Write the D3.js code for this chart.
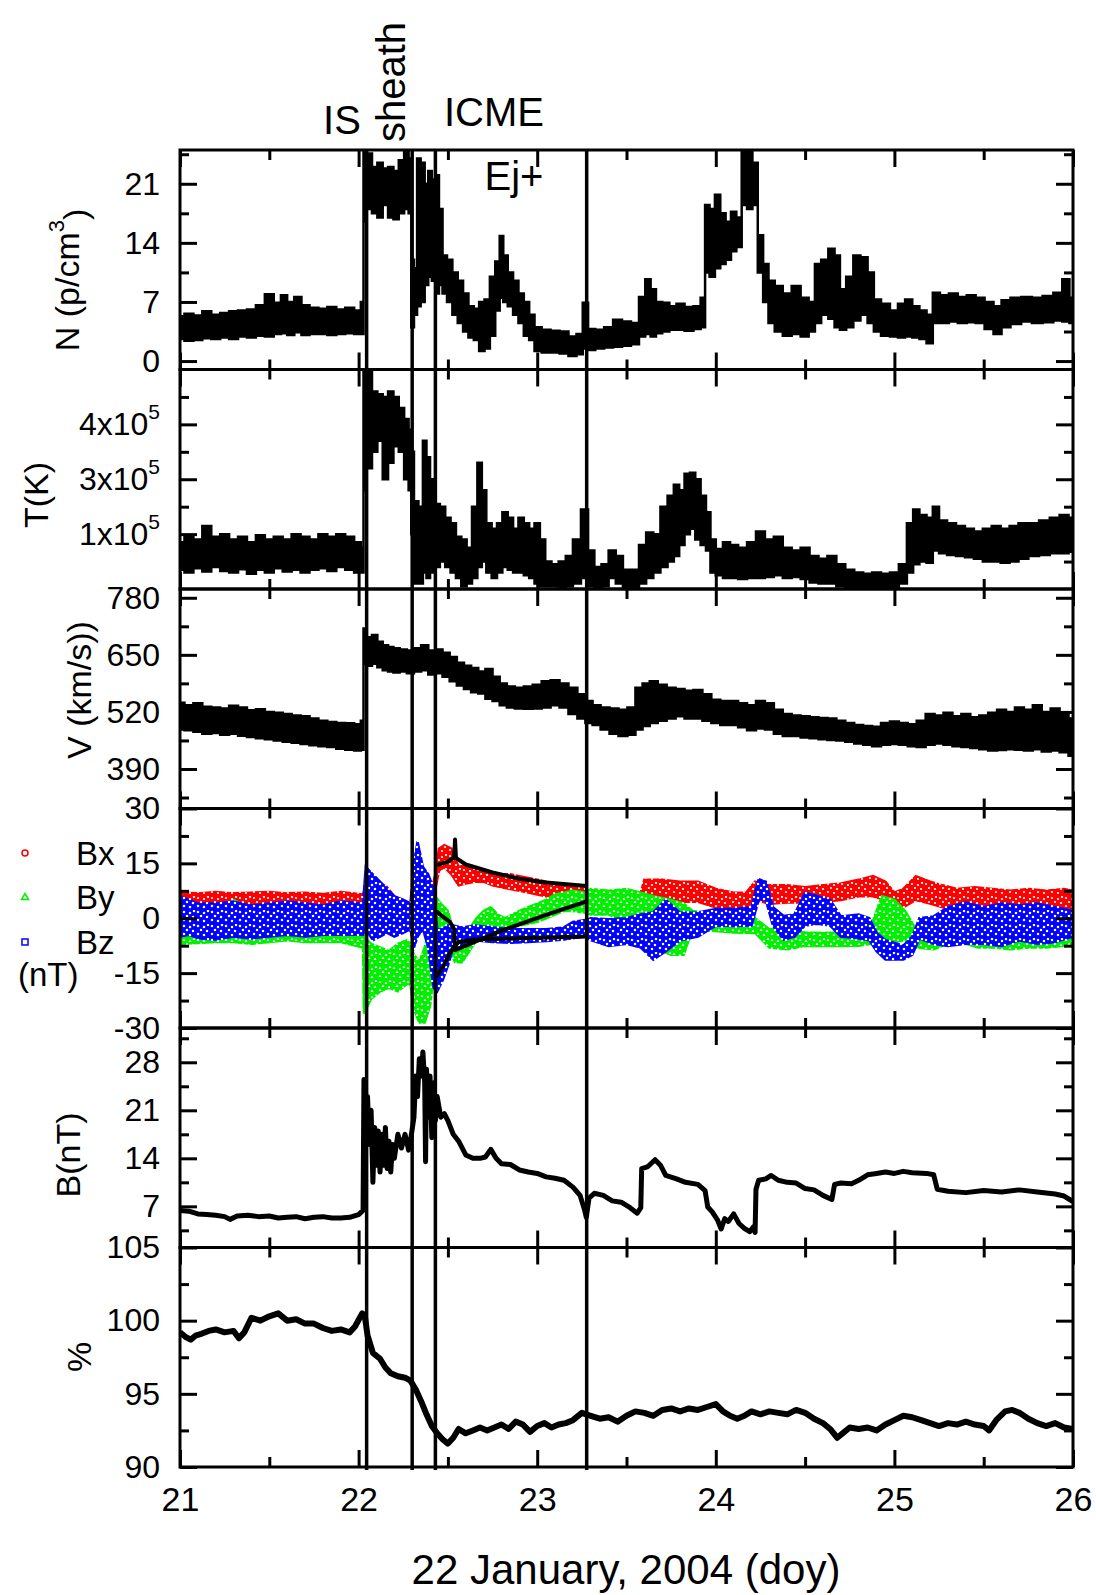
<!DOCTYPE html>
<html>
<head>
<meta charset="utf-8">
<script src="https://cdnjs.cloudflare.com/ajax/libs/d3/7.8.5/d3.min.js"></script>
<style>
  body { margin: 0; background: #fff; }
  svg { font-family: "Liberation Sans", Arial, sans-serif; }
  .axis path { display: none; }
  .axis line { stroke: #000; stroke-width: 3; }
  .axis text { font-size: 32px; fill: #000; font-family: "Liberation Sans", Arial, sans-serif; }
</style>
</head>
<body>
<svg id="chart" width="1096" height="1595"></svg>
<script>
/* CONSTANTS AND GLOBALS */
const
  margin = { top: 150, left: 180, right: 23 },
  width = 1096,
  panelH = 219.5,
  plotRight = width - margin.right;

// x axis
const dayTicks = [21, 22, 23, 24, 25, 26];
const dayMinor = [21.5, 22.5, 23.5, 24.5, 25.5];
// IS, sheath end, ICME start, ICME end
const eventDays = [22.045, 22.30, 22.43, 23.277];

// y ticks per panel
const nTicks = [0, 7, 14, 21], nMinor = [3.5, 10.5, 17.5, 24.5];
const tTicks = [2, 3, 4], tMinor = [1.5, 2.5, 3.5, 4.5];
const tTickLabels = ["1x10", "3x10", "4x10"];
const vTicks = [390, 520, 650, 780], vMinor = [325, 455, 585, 715];
const bcTicks = [-30, -15, 0, 15, 30], bcMinor = [-22.5, -7.5, 7.5, 22.5];
const bTicks = [7, 14, 21, 28], bMinor = [3.5, 10.5, 17.5, 24.5, 31.5];
const pTicks = [90, 95, 100, 105], pMinor = [92.5, 97.5, 102.5];

// density N (p/cm3): [day, low, high] of the point cloud
const nBand = [
  [21.00, 2.6, 5.3], [21.05, 2.4, 5.6], [21.10, 2.5, 5.4], [21.15, 2.7, 5.9], [21.20, 2.6, 5.5],
  [21.25, 2.8, 5.7], [21.30, 2.6, 5.9], [21.35, 2.9, 6.0], [21.40, 2.8, 6.1], [21.45, 3.0, 6.6],
  [21.50, 2.9, 7.9], [21.55, 3.2, 6.9], [21.58, 3.3, 7.8], [21.62, 3.1, 7.0], [21.66, 3.4, 7.6],
  [21.70, 3.1, 6.6], [21.75, 3.2, 6.3], [21.80, 3.2, 6.2], [21.85, 3.1, 6.4], [21.90, 3.2, 6.1],
  [21.95, 3.3, 6.3], [22.00, 3.2, 6.0], [22.025, 3.2, 7.0],
  [22.03, 16.5, 25], [22.06, 18.0, 24.6], [22.09, 17.5, 23.0], [22.12, 17.0, 23.5], [22.15, 18.5, 22.8],
  [22.18, 17.0, 23.0], [22.21, 16.8, 22.5], [22.24, 17.5, 23.8], [22.27, 18.0, 25], [22.29, 17.5, 24],
  [22.30, 4.0, 12], [22.32, 5.5, 11.0], [22.335, 6.5, 24.0], [22.36, 7.0, 23.5], [22.38, 9.0, 21],
  [22.40, 10.0, 22.5], [22.42, 9.5, 21.5], [22.44, 8.0, 22], [22.46, 9.0, 18], [22.48, 8.0, 12.5],
  [22.51, 7.0, 12.0], [22.54, 5.5, 10.5], [22.57, 4.5, 9.5], [22.60, 3.5, 8.0], [22.63, 2.8, 6.5],
  [22.66, 2.5, 6.2], [22.69, 1.2, 7.0], [22.72, 1.5, 7.3], [22.75, 3.0, 10.0], [22.78, 6.0, 11.8],
  [22.80, 7.5, 14.8], [22.82, 7.0, 12.5], [22.85, 6.5, 10.5], [22.88, 5.5, 9.5], [22.91, 4.5, 8.0],
  [22.94, 3.0, 7.0], [22.97, 2.5, 5.5], [23.00, 1.2, 4.0], [23.05, 1.0, 3.7], [23.10, 1.0, 3.6],
  [23.15, 0.9, 3.5], [23.20, 0.6, 2.9], [23.24, 0.8, 3.2], [23.27, 1.5, 6.9], [23.30, 1.3, 3.8],
  [23.35, 1.5, 3.7], [23.40, 1.6, 4.0], [23.45, 1.7, 4.9], [23.50, 1.8, 4.7], [23.55, 2.0, 4.5],
  [23.59, 2.9, 7.6], [23.62, 3.2, 9.7], [23.65, 2.9, 8.5], [23.68, 3.3, 7.0], [23.72, 3.5, 6.9],
  [23.76, 3.7, 6.5], [23.80, 3.7, 6.8], [23.85, 3.6, 6.4], [23.90, 3.8, 6.5], [23.93, 4.0, 7.5],
  [23.95, 10.5, 18.5], [23.98, 10.0, 18.0], [24.01, 11.0, 19.7], [24.04, 11.5, 17.5], [24.07, 12.0, 16.5],
  [24.10, 13.0, 17.7], [24.13, 13.5, 17.0], [24.16, 18.5, 24.9], [24.19, 18.0, 25], [24.22, 18.5, 23.5],
  [24.25, 10.5, 14.9], [24.28, 7.0, 11.5], [24.31, 4.5, 9.5], [24.35, 3.5, 8.9], [24.40, 3.0, 8.0],
  [24.45, 3.2, 8.9], [24.50, 2.9, 7.5], [24.54, 3.5, 7.0], [24.57, 4.5, 11.5], [24.61, 5.5, 12.0],
  [24.65, 5.0, 13.3], [24.68, 4.0, 12.5], [24.71, 3.7, 8.5], [24.75, 4.0, 10.0], [24.79, 4.8, 12.5],
  [24.83, 5.5, 12.3], [24.87, 4.5, 10.5], [24.90, 3.5, 7.3], [24.95, 3.0, 6.8], [25.00, 2.9, 6.0],
  [25.04, 2.8, 6.8], [25.08, 2.9, 7.3], [25.12, 2.8, 6.5], [25.16, 2.6, 6.0], [25.20, 2.1, 5.5],
  [25.23, 4.5, 8.1], [25.28, 4.5, 7.8], [25.33, 4.7, 8.0], [25.38, 4.5, 7.6], [25.43, 4.6, 7.8],
  [25.48, 4.5, 7.5], [25.53, 3.8, 7.0], [25.58, 3.2, 6.5], [25.62, 4.0, 7.2], [25.68, 4.4, 7.5],
  [25.74, 4.7, 7.6], [25.80, 4.5, 7.5], [25.86, 4.6, 7.7], [25.92, 4.8, 8.1], [25.96, 4.7, 9.7],
  [26.00, 4.5, 7.5]
];

// temperature, in units of 1e5 K on the printed axis
const tBand = [
  [21.00, 1.35, 1.85], [21.05, 1.30, 1.95], [21.10, 1.38, 1.90], [21.15, 1.32, 2.15], [21.20, 1.40, 1.95],
  [21.25, 1.33, 2.00], [21.30, 1.30, 1.90], [21.35, 1.36, 1.95], [21.40, 1.28, 1.85], [21.45, 1.35, 1.98],
  [21.50, 1.30, 1.90], [21.55, 1.38, 1.95], [21.60, 1.32, 1.90], [21.65, 1.35, 2.00], [21.70, 1.30, 1.95],
  [21.75, 1.35, 1.90], [21.80, 1.38, 2.00], [21.85, 1.33, 1.95], [21.90, 1.40, 2.00], [21.95, 1.35, 1.95],
  [22.00, 1.30, 1.85], [22.025, 1.30, 1.75],
  [22.03, 2.8, 4.95], [22.06, 3.2, 4.95], [22.09, 3.5, 4.6], [22.12, 3.7, 4.55], [22.15, 3.0, 4.5],
  [22.18, 3.3, 4.6], [22.21, 3.6, 4.5], [22.24, 3.5, 4.3], [22.27, 3.0, 4.1], [22.29, 2.8, 3.9],
  [22.30, 2.0, 3.5], [22.32, 1.1, 2.6], [22.35, 1.1, 2.5], [22.37, 1.3, 3.7], [22.39, 1.2, 3.4],
  [22.41, 1.3, 3.0], [22.44, 1.4, 2.55], [22.47, 1.5, 2.5], [22.50, 1.4, 2.3], [22.53, 1.3, 2.2],
  [22.56, 1.2, 1.95], [22.59, 1.05, 1.9], [22.62, 1.1, 1.75], [22.65, 1.2, 2.5], [22.68, 1.4, 3.3],
  [22.70, 1.5, 2.8], [22.73, 1.3, 2.2], [22.76, 1.2, 2.1], [22.79, 1.3, 2.2], [22.82, 1.4, 2.4],
  [22.85, 1.35, 2.3], [22.88, 1.3, 2.1], [22.91, 1.3, 2.3], [22.94, 1.25, 2.2], [22.97, 1.2, 2.1],
  [23.00, 1.1, 2.2], [23.03, 1.05, 1.9], [23.06, 1.05, 1.5], [23.10, 1.05, 1.45], [23.14, 1.03, 1.5],
  [23.18, 1.05, 1.6], [23.22, 1.1, 1.9], [23.27, 1.2, 2.45], [23.30, 1.05, 1.7], [23.34, 1.03, 1.4],
  [23.38, 1.05, 1.45], [23.42, 1.2, 1.7], [23.46, 1.1, 1.6], [23.50, 1.03, 1.35], [23.55, 1.03, 1.35],
  [23.59, 1.1, 1.8], [23.63, 1.2, 2.03], [23.67, 1.3, 2.0], [23.71, 1.4, 2.5], [23.75, 1.5, 2.7],
  [23.78, 1.6, 2.9], [23.81, 1.8, 2.8], [23.84, 2.0, 3.1], [23.87, 2.1, 3.12], [23.90, 1.9, 3.0],
  [23.93, 1.8, 2.7], [23.96, 1.7, 2.4], [23.98, 1.3, 1.9], [24.02, 1.25, 1.73], [24.06, 1.2, 1.85],
  [24.10, 1.2, 1.8], [24.15, 1.18, 1.75], [24.20, 1.2, 1.85], [24.25, 1.2, 2.05], [24.30, 1.22, 1.9],
  [24.35, 1.25, 1.95], [24.40, 1.2, 1.75], [24.45, 1.22, 1.7], [24.50, 1.18, 1.75], [24.55, 1.12, 1.6],
  [24.60, 1.1, 1.55], [24.65, 1.1, 1.6], [24.70, 1.05, 1.45], [24.75, 1.03, 1.35], [24.80, 1.03, 1.3],
  [24.85, 1.02, 1.28], [24.90, 1.03, 1.3], [24.95, 1.02, 1.28], [25.00, 1.03, 1.3], [25.05, 1.1, 1.45],
  [25.09, 1.3, 2.2], [25.12, 1.45, 2.45], [25.16, 1.5, 2.35], [25.20, 1.48, 2.3], [25.23, 1.7, 2.5],
  [25.27, 1.65, 2.25], [25.32, 1.62, 2.2], [25.37, 1.6, 2.15], [25.42, 1.58, 2.1], [25.47, 1.55, 2.05],
  [25.52, 1.5, 2.1], [25.57, 1.5, 2.15], [25.62, 1.48, 2.1], [25.67, 1.5, 2.15], [25.72, 1.55, 2.2],
  [25.78, 1.6, 2.2], [25.84, 1.62, 2.25], [25.90, 1.65, 2.3], [25.95, 1.65, 2.35], [26.00, 1.68, 2.3]
];

// speed V (km/s)
const vBand = [
  [21.00, 480, 541], [21.05, 478, 535], [21.10, 475, 540], [21.15, 470, 532], [21.20, 472, 530],
  [21.25, 468, 528], [21.30, 470, 534], [21.35, 466, 530], [21.40, 463, 524], [21.45, 460, 526],
  [21.50, 458, 520], [21.55, 455, 518], [21.60, 452, 515], [21.65, 450, 512], [21.70, 447, 510],
  [21.75, 444, 505], [21.80, 442, 500], [21.85, 440, 497], [21.90, 436, 495], [21.95, 434, 494],
  [22.00, 432, 492], [22.025, 434, 500],
  [22.03, 630, 710], [22.06, 625, 690], [22.09, 630, 695], [22.12, 622, 680], [22.15, 615, 672],
  [22.18, 612, 668], [22.21, 610, 665], [22.25, 612, 662], [22.29, 608, 660], [22.33, 612, 665],
  [22.37, 615, 672], [22.41, 605, 660], [22.45, 608, 662], [22.49, 600, 655], [22.53, 590, 645],
  [22.57, 580, 632], [22.61, 572, 625], [22.65, 565, 620], [22.69, 562, 612], [22.73, 550, 618],
  [22.77, 545, 600], [22.81, 535, 585], [22.85, 530, 578], [22.90, 528, 575], [22.95, 527, 578],
  [23.00, 528, 582], [23.05, 530, 590], [23.10, 535, 592], [23.15, 530, 585], [23.20, 515, 575],
  [23.25, 505, 560], [23.29, 495, 545], [23.33, 490, 535], [23.38, 480, 530], [23.43, 470, 528],
  [23.48, 465, 525], [23.53, 468, 530], [23.57, 480, 575], [23.61, 488, 585], [23.65, 495, 590],
  [23.70, 500, 582], [23.75, 505, 575], [23.80, 510, 572], [23.85, 505, 568], [23.90, 505, 570],
  [23.95, 500, 560], [24.00, 495, 548], [24.05, 490, 545], [24.10, 490, 545], [24.15, 485, 540],
  [24.20, 478, 535], [24.25, 482, 545], [24.30, 480, 540], [24.35, 470, 525], [24.40, 465, 515],
  [24.45, 465, 512], [24.50, 462, 510], [24.55, 460, 508], [24.60, 458, 506], [24.65, 456, 505],
  [24.70, 455, 500], [24.75, 452, 495], [24.80, 448, 490], [24.85, 445, 488], [24.90, 442, 486],
  [24.95, 445, 495], [25.00, 447, 498], [25.05, 445, 495], [25.10, 442, 492], [25.15, 440, 500],
  [25.20, 445, 515], [25.25, 448, 512], [25.30, 445, 518], [25.35, 442, 510], [25.40, 440, 515],
  [25.45, 438, 508], [25.50, 435, 512], [25.55, 432, 518], [25.60, 433, 525], [25.65, 435, 520],
  [25.70, 434, 530], [25.75, 432, 525], [25.80, 435, 535], [25.85, 430, 520], [25.90, 432, 528],
  [25.95, 428, 515], [26.00, 420, 505]
];

// field components (nT): [day, low, high] of each marker cloud
const bxBand = [
  [21.00, 3.5, 7.0], [21.10, 3.0, 6.8], [21.20, 3.5, 7.2], [21.30, 3.0, 6.8], [21.40, 3.5, 7.0],
  [21.50, 3.0, 7.2], [21.60, 3.5, 6.8], [21.70, 3.0, 7.0], [21.80, 3.5, 6.6], [21.90, 3.0, 7.2],
  [22.025, 3.0, 6.5], [22.05, -2, 10], [22.10, 0, 8], [22.15, -3, 9], [22.20, 1, 6], [22.25, -1, 5],
  [22.29, 0, 4], [22.32, -2, 5], [22.36, 0, 3], [22.40, -1, 6], [22.43, 8, 12],
  [22.45, 13, 19], [22.48, 14, 20], [22.52, 12, 19], [22.56, 9, 14], [22.60, 9.5, 14.5],
  [22.65, 10, 13.5], [22.70, 10, 13], [22.75, 9, 12.5], [22.80, 8.5, 12], [22.85, 8, 12],
  [22.90, 7.5, 11.5], [22.95, 7, 11], [23.00, 6.5, 10.5], [23.05, 6, 10], [23.10, 5.5, 9.5],
  [23.15, 5, 9], [23.20, 4, 8.5], [23.27, 3, 8], [23.30, 2.5, 7], [23.40, 2.5, 7], [23.50, 2.5, 7],
  [23.58, 3, 7], [23.60, 4.5, 10.5], [23.70, 5, 10.5], [23.80, 4.5, 10], [23.90, 4.5, 10],
  [24.00, 3, 8], [24.10, 2.5, 7], [24.17, 3, 7], [24.22, 5, 10], [24.30, 4, 9], [24.40, 4.3, 9],
  [24.50, 4.3, 8.5], [24.60, 4.5, 9], [24.70, 5, 9.5], [24.80, 6, 10.5], [24.88, 6, 11.5],
  [24.95, 5, 10], [25.00, 2.5, 7], [25.05, 3, 8], [25.12, 5, 11.5], [25.20, 4, 10], [25.27, 3, 9],
  [25.35, 2, 8], [25.45, 1.6, 8.5], [25.55, 2, 8], [25.65, 1.6, 7.5], [25.75, 2, 8], [25.85, 2.5, 7.5],
  [25.95, 2, 8], [26.00, 3, 7.5]
];
const byBand = [
  [21.00, -7, -2.5], [21.10, -6.8, -3], [21.20, -6.5, 1], [21.30, -6.5, 5], [21.40, -7, 2.5],
  [21.50, -6.5, -3], [21.60, -6, -2.5], [21.70, -6.5, -3], [21.80, -6.5, -2.5], [21.90, -6.5, -3],
  [22.025, -8, -2],
  [22.03, -26, -5], [22.07, -22, -7], [22.12, -20, -8], [22.17, -19, -9], [22.22, -20, -7],
  [22.27, -18, -6], [22.29, -18, -7], [22.31, -25, -10], [22.34, -28.5, -12], [22.37, -28.5, -8],
  [22.40, -24, -2], [22.43, -12, 6], [22.46, -10, 4], [22.50, -8, 2], [22.54, -12, -5],
  [22.58, -12, -6], [22.62, -9, -3], [22.66, -6, 0], [22.70, -5, 2], [22.74, -4, 3], [22.78, -3.5, 1],
  [22.82, -3, 0], [22.86, -2.5, 1], [22.90, -2, 2], [22.95, -1.5, 3], [23.00, -1, 4], [23.05, 0, 5],
  [23.10, 1, 6.5], [23.15, 2, 7], [23.20, 2, 7.5], [23.27, 1.5, 7], [23.30, 1, 8], [23.40, 1, 7.5],
  [23.50, -1, 8], [23.58, -3, 7], [23.65, -8, 6], [23.75, -10, 5], [23.82, -10, 4], [23.87, -3, 2],
  [24.00, -3.5, 1], [24.10, -3.9, 0.6], [24.22, -4, 0], [24.30, -8, -3], [24.40, -8.5, -3],
  [24.50, -7.5, -3.9], [24.60, -7.6, -4], [24.70, -7.6, -3.9], [24.80, -7.5, -4], [24.87, -7, -2],
  [24.93, -7, 6], [25.00, -6.5, 5], [25.06, -6, 2], [25.12, -8, -3], [25.22, -8.5, -3], [25.30, -7, 3],
  [25.40, -7, 3.5], [25.47, -8, 0], [25.55, -8, -1], [25.65, -8.5, -1.5], [25.75, -8, -1.2],
  [25.85, -8, -1], [25.95, -7.5, 2], [26.00, -7, 1]
];
const bzBand = [
  [21.00, -5, 6], [21.05, -4.5, 5], [21.10, -5.5, 4], [21.20, -5.8, 4], [21.30, -5, 4.5], [21.40, -5.5, 3.5],
  [21.50, -5, 4], [21.60, -4.5, 4.5], [21.70, -5, 4], [21.80, -4.5, 3.5], [21.90, -4.5, 4.5], [22.025, -4.5, 4],
  [22.04, -3, 14], [22.08, -6, 12], [22.12, -5, 10], [22.16, -4, 8], [22.20, -5, 6], [22.25, -4, 5],
  [22.29, -3, 4], [22.31, -8, 15], [22.33, -5, 21], [22.36, -3, 14], [22.39, -8, 12], [22.42, -19, 8],
  [22.44, -20, -3], [22.47, -17, -3], [22.50, -13, -2], [22.53, -8, -2], [22.58, -7, -2.5],
  [22.65, -6, -2], [22.75, -6.5, -2.5], [22.85, -6.7, -3], [22.95, -6.5, -3], [23.05, -6.2, -3],
  [23.15, -5.8, -2.5], [23.20, -5.5, -1], [23.27, -5, -0.5], [23.30, -6, 0], [23.40, -7.6, -0.3],
  [23.50, -7, 0], [23.58, -8, 1], [23.65, -11.3, 1.6], [23.72, -9, 5], [23.80, -6, 1.5], [23.90, -5, 1.6],
  [24.00, -2, 2.5], [24.10, -2.1, 2.5], [24.20, -2, 3], [24.24, 5, 10.7], [24.28, 5, 10], [24.32, -2, 3],
  [24.38, -5.8, 0.6], [24.44, -5, 1], [24.50, -2, 7], [24.57, -1.5, 6], [24.64, -2, 5], [24.70, -5, 0.5],
  [24.80, -5.5, 1], [24.86, -6, 0], [24.90, -9, -4], [24.95, -11.3, -6], [25.05, -11.3, -7.5],
  [25.10, -10, -5], [25.14, -5.5, 0], [25.22, -7, 0.5], [25.30, -7.6, 3], [25.40, -7, 4.3],
  [25.50, -7, 3], [25.60, -7.6, 4], [25.70, -6, 3.5], [25.80, -7, 4], [25.90, -6.5, 3], [26.00, -5, 2]
];
// flux-rope fit curves inside the ejecta
const bxFit = [
  [22.44, 14.5], [22.50, 15.5], [22.535, 16.6], [22.54, 21.5], [22.545, 16.5], [22.60, 14.7],
  [22.75, 12.5], [22.90, 10.8], [23.05, 9.8], [23.277, 8.8]
];
const byFit = [
  [22.435, 1.9], [22.47, 0.5], [22.51, -0.9], [22.535, -3], [22.54, -8.7], [22.56, -8.3],
  [22.80, -3.4], [23.05, 0.9], [23.277, 4.6]
];
const bzFit = [
  [22.435, -16], [22.47, -13.5], [22.50, -10.5], [22.53, -8], [22.56, -6.5], [22.65, -5.8],
  [22.90, -5.5], [23.277, -5]
];

// |B| (nT)
const bLine = [
  [21.00, 6.4], [21.05, 6.3], [21.10, 5.9], [21.15, 5.8], [21.20, 5.7], [21.25, 5.5], [21.28, 5.1],
  [21.32, 5.6], [21.38, 5.7], [21.44, 5.5], [21.50, 5.6], [21.55, 5.3], [21.60, 5.4], [21.65, 5.5],
  [21.70, 5.2], [21.75, 5.4], [21.80, 5.5], [21.85, 5.3], [21.90, 5.3], [21.95, 5.4], [22.00, 5.8],
  [22.025, 6.4], [22.03, 25.5], [22.04, 18], [22.05, 23], [22.06, 16], [22.07, 21], [22.08, 10.5],
  [22.09, 18.5], [22.10, 13], [22.11, 18], [22.12, 12], [22.13, 17.5], [22.14, 13], [22.15, 18.5],
  [22.16, 12.5], [22.17, 16.5], [22.18, 12], [22.19, 16], [22.20, 14], [22.22, 17.5], [22.24, 15.5],
  [22.26, 17.5], [22.28, 15.2], [22.29, 16.5], [22.31, 20], [22.32, 26], [22.33, 23], [22.34, 28.5],
  [22.35, 26], [22.36, 29.5], [22.37, 25], [22.375, 13.5], [22.38, 27], [22.39, 20], [22.40, 26],
  [22.41, 17], [22.42, 25], [22.43, 19.5], [22.44, 23], [22.46, 20], [22.48, 20.5], [22.50, 19.5],
  [22.53, 17.5], [22.56, 16.5], [22.60, 14.5], [22.64, 14], [22.68, 14], [22.71, 14.2], [22.74, 15.3],
  [22.77, 14], [22.80, 13.2], [22.85, 13.1], [22.90, 12.3], [22.95, 12], [23.00, 11.8], [23.05, 11.3],
  [23.10, 11.1], [23.15, 10.8], [23.20, 9.8], [23.24, 8.6], [23.265, 6.5], [23.275, 5.4], [23.29, 8.2],
  [23.32, 8.9], [23.37, 8.6], [23.42, 7.8], [23.47, 7.6], [23.52, 6.8], [23.56, 6.0], [23.58, 6.8],
  [23.585, 12.5], [23.62, 12.8], [23.66, 13.8], [23.69, 13.0], [23.72, 11.5], [23.78, 11.0],
  [23.83, 10.5], [23.90, 10.2], [23.94, 9.3], [23.955, 6.9], [23.98, 6.2], [24.01, 5.0], [24.03, 3.7],
  [24.05, 5.2], [24.07, 4.8], [24.10, 5.9], [24.13, 4.5], [24.16, 3.8], [24.19, 3.3], [24.21, 4.0],
  [24.22, 3.2], [24.225, 9.5], [24.24, 10.8], [24.28, 11.0], [24.31, 11.5], [24.35, 10.8], [24.40, 10.5],
  [24.45, 10.4], [24.50, 9.6], [24.55, 9.4], [24.60, 8.6], [24.65, 8.0], [24.665, 10.2], [24.70, 10.4],
  [24.76, 10.3], [24.80, 10.8], [24.85, 11.6], [24.90, 11.8], [24.95, 12.0], [25.00, 11.8], [25.05, 12.1],
  [25.10, 11.9], [25.18, 11.8], [25.22, 11.6], [25.24, 9.5], [25.30, 9.2], [25.40, 9.0], [25.50, 9.3],
  [25.60, 9.1], [25.70, 9.4], [25.80, 9.1], [25.90, 8.8], [25.95, 8.5], [26.00, 7.7]
];

// cosmic-ray count rate (%)
const pLine = [
  [21.00, 99.2], [21.03, 98.9], [21.06, 98.7], [21.09, 99.0], [21.12, 99.1], [21.16, 99.3], [21.20, 99.4],
  [21.25, 99.2], [21.30, 99.3], [21.33, 98.8], [21.36, 99.2], [21.40, 100.2], [21.45, 100.0], [21.50, 100.3],
  [21.55, 100.5], [21.60, 100.0], [21.65, 100.1], [21.70, 99.8], [21.75, 99.8], [21.80, 99.5], [21.85, 99.3],
  [21.90, 99.4], [21.95, 99.2], [21.98, 99.6], [22.02, 100.5], [22.035, 100.3], [22.05, 99.0], [22.08, 97.8],
  [22.12, 97.4], [22.15, 96.8], [22.18, 96.4], [22.22, 96.2], [22.26, 96.1], [22.29, 95.9], [22.32, 95.3],
  [22.35, 94.5], [22.38, 93.6], [22.41, 92.8], [22.44, 92.3], [22.47, 91.9], [22.50, 91.6], [22.53, 92.0],
  [22.56, 92.6], [22.60, 92.3], [22.64, 92.5], [22.68, 92.7], [22.72, 92.5], [22.76, 92.7], [22.80, 92.9],
  [22.84, 92.6], [22.88, 93.1], [22.92, 92.9], [22.96, 92.4], [23.00, 92.8], [23.04, 93.0], [23.08, 92.7],
  [23.12, 92.9], [23.16, 93.0], [23.20, 93.2], [23.25, 93.7], [23.30, 93.5], [23.35, 93.3], [23.40, 93.4],
  [23.45, 93.1], [23.50, 93.5], [23.55, 93.8], [23.60, 93.7], [23.65, 93.5], [23.70, 93.9], [23.75, 94.0],
  [23.80, 93.8], [23.85, 94.0], [23.90, 93.9], [23.95, 94.1], [24.00, 94.3], [24.04, 93.8], [24.08, 93.5],
  [24.12, 93.3], [24.16, 93.5], [24.20, 93.8], [24.25, 93.6], [24.30, 93.8], [24.35, 93.7], [24.40, 93.6],
  [24.45, 93.9], [24.50, 93.7], [24.55, 93.3], [24.60, 93.0], [24.64, 92.6], [24.68, 92.0], [24.71, 92.3],
  [24.75, 92.7], [24.80, 92.6], [24.85, 92.7], [24.90, 92.5], [24.95, 92.9], [25.00, 93.2], [25.05, 93.5],
  [25.10, 93.4], [25.15, 93.2], [25.20, 93.0], [25.25, 92.8], [25.30, 93.0], [25.35, 92.9], [25.40, 93.1],
  [25.45, 92.9], [25.50, 92.8], [25.53, 92.5], [25.57, 93.2], [25.62, 93.8], [25.66, 93.9], [25.70, 93.7],
  [25.75, 93.3], [25.80, 93.0], [25.85, 92.8], [25.90, 93.0], [25.95, 92.7], [26.00, 92.6]
];

/* SCALES AND PANELS */
const svg = d3.select("#chart");
const x = d3.scaleLinear().domain([21, 26]).range([margin.left, plotRight]);

const panels = [
  { id: "n", domain: [-1, 25], ticks: nTicks, minor: nMinor },
  { id: "t", domain: [1, 5], ticks: tTicks, minor: tMinor },
  { id: "v", domain: [300, 800], ticks: vTicks, minor: vMinor },
  { id: "bc", domain: [-30, 30], ticks: bcTicks, minor: bcMinor },
  { id: "b", domain: [1, 33], ticks: bTicks, minor: bMinor },
  { id: "p", domain: [90, 105], ticks: pTicks, minor: pMinor }
];
panels.forEach((p, i) => {
  p.y0 = margin.top + i * panelH;
  p.y1 = p.y0 + panelH;
  p.y = d3.scaleLinear().domain(p.domain).range([p.y1, p.y0]);
});
const P = Object.fromEntries(panels.map(p => [p.id, p]));
const bottom = panels[panels.length - 1].y1;

const defs = svg.append("defs");
panels.forEach(p => {
  defs.append("clipPath").attr("id", "clip-" + p.id)
    .append("rect")
    .attr("x", margin.left).attr("y", p.y0)
    .attr("width", plotRight - margin.left).attr("height", panelH);
});

// texture standing in for the dense open-symbol scatter: solid colour with white symbol centres
const red = "#ff0000", green = "#00f000", blue = "#0000ff";
const holes = [[2, 2], [8, 3], [5, 6], [11, 7], [2, 10], [8, 11], [12, 1]];
function pattern(id, color, shape) {
  const pt = defs.append("pattern").attr("id", id)
    .attr("patternUnits", "userSpaceOnUse").attr("width", 14).attr("height", 14);
  pt.append("rect").attr("width", 14).attr("height", 14).attr("fill", color);
  holes.forEach(([cx, cy]) => {
    if (shape === "circle") {
      pt.append("circle").attr("cx", cx).attr("cy", cy).attr("r", 1.1).attr("fill", "#fff");
    } else if (shape === "tri") {
      pt.append("path").attr("d", `M${cx},${cy - 1.4}L${cx + 1.4},${cy + 1.1}L${cx - 1.4},${cy + 1.1}Z`).attr("fill", "#fff");
    } else {
      pt.append("rect").attr("x", cx - 1.1).attr("y", cy - 1.1).attr("width", 2.2).attr("height", 2.2).attr("fill", "#fff");
    }
  });
}
pattern("pat-bx", red, "circle");
pattern("pat-by", green, "tri");
pattern("pat-bz", blue, "square");

/* DATA */
function band(p, data, fill, curve) {
  const area = d3.area()
    .x(d => x(d[0]))
    .y0(d => p.y(d[1]))
    .y1(d => p.y(d[2]))
    .curve(curve);
  svg.append("path")
    .datum(data)
    .attr("clip-path", `url(#clip-${p.id})`)
    .attr("d", area)
    .attr("fill", fill)
    .attr("stroke", fill)
    .attr("stroke-width", 2.5);
}
function line(p, data, w) {
  const ln = d3.line().x(d => x(d[0])).y(d => p.y(d[1]));
  svg.append("path")
    .datum(data)
    .attr("clip-path", `url(#clip-${p.id})`)
    .attr("d", ln)
    .attr("fill", "none")
    .attr("stroke", "#000")
    .attr("stroke-width", w)
    .attr("stroke-linejoin", "round");
}

band(P.n, nBand, "#000", d3.curveStep);
band(P.t, tBand, "#000", d3.curveStep);
band(P.v, vBand, "#000", d3.curveStep);
band(P.bc, bxBand, "url(#pat-bx)", d3.curveLinear);
band(P.bc, byBand, "url(#pat-by)", d3.curveLinear);
band(P.bc, bzBand, "url(#pat-bz)", d3.curveLinear);
line(P.bc, bxFit, 4);
line(P.bc, byFit, 4);
line(P.bc, bzFit, 4);
line(P.b, bLine, 5);
line(P.p, pLine, 6);

/* AXES AND FRAMES */
const plain = d => String(d);
panels.forEach(p => {
  const g = svg.append("g");
  const lab = g.append("g").attr("class", "axis")
    .attr("transform", `translate(${margin.left},0)`)
    .call(d3.axisLeft(p.y).tickValues(p.ticks).tickSize(-17).tickPadding(20).tickFormat(plain));
  if (p.id === "t") {
    lab.selectAll(".tick text").each(function (d, k) {
      const t = d3.select(this).text(null);
      t.append("tspan").text(tTickLabels[k]);
      t.append("tspan").attr("dy", "-0.75em").style("font-size", "21px").text("5");
    });
  }
  g.append("g").attr("class", "axis")
    .attr("transform", `translate(${margin.left},0)`)
    .call(d3.axisLeft(p.y).tickValues(p.minor).tickSize(-9).tickFormat(""));
  g.append("g").attr("class", "axis")
    .attr("transform", `translate(${plotRight},0)`)
    .call(d3.axisRight(p.y).tickValues(p.ticks).tickSize(-17).tickFormat(""));
  g.append("g").attr("class", "axis")
    .attr("transform", `translate(${plotRight},0)`)
    .call(d3.axisRight(p.y).tickValues(p.minor).tickSize(-9).tickFormat(""));
  g.append("g").attr("class", "axis")
    .attr("transform", `translate(0,${p.y0})`)
    .call(d3.axisTop(x).tickValues(dayTicks).tickSize(-17).tickFormat(""));
  g.append("g").attr("class", "axis")
    .attr("transform", `translate(0,${p.y0})`)
    .call(d3.axisTop(x).tickValues(dayMinor).tickSize(-10).tickFormat(""));
  g.append("g").attr("class", "axis")
    .attr("transform", `translate(0,${p.y1})`)
    .call(d3.axisBottom(x).tickValues(dayTicks).tickSize(-17).tickFormat(""));
  g.append("g").attr("class", "axis")
    .attr("transform", `translate(0,${p.y1})`)
    .call(d3.axisBottom(x).tickValues(dayMinor).tickSize(-10).tickFormat(""));
  g.append("rect")
    .attr("x", margin.left).attr("y", p.y0)
    .attr("width", plotRight - margin.left).attr("height", panelH)
    .attr("fill", "none").attr("stroke", "#000").attr("stroke-width", 3);
});

// day labels under the last panel
svg.append("g").attr("class", "axis")
  .attr("transform", `translate(0,${bottom})`)
  .call(d3.axisBottom(x).tickValues(dayTicks).tickSize(0).tickPadding(20).tickFormat(plain))
  .selectAll("text").style("font-size", "34px");

// event boundaries
svg.append("g").selectAll("line")
  .data(eventDays)
  .join("line")
  .attr("x1", d => x(d)).attr("x2", d => x(d))
  .attr("y1", margin.top - 1).attr("y2", bottom + 3)
  .attr("stroke", "#000").attr("stroke-width", 3.5);

/* TEXT */
const txt = (xx, yy, s, size, anchor) => svg.append("text")
  .attr("x", xx).attr("y", yy)
  .attr("font-size", size).attr("text-anchor", anchor || "middle")
  .text(s);

txt(342, 134, "IS", 40);
txt(494, 126, "ICME", 40);
txt(514, 190, "Ej+", 40);
svg.append("text")
  .attr("transform", "translate(405,142) rotate(-90)")
  .attr("font-size", 40).attr("text-anchor", "start")
  .text("sheath");

const ytitle = (xx, yy, s) => svg.append("text")
  .attr("transform", `translate(${xx},${yy}) rotate(-90)`)
  .attr("font-size", 34).attr("text-anchor", "middle")
  .text(s);

const nTitle = ytitle(79, 280, "N (p/cm");
nTitle.append("tspan").attr("dy", "-0.7em").style("font-size", "22px").text("3");
nTitle.append("tspan").attr("dy", "0.7em").text(")");
ytitle(48, 495, "T(K)");
ytitle(91, 690, "V (km/s))");
ytitle(80, 1155, "B(nT)");
ytitle(91, 1357, "%");

// component legend
const legend = [
  { y: 853, name: "Bx", color: red, shape: "circle" },
  { y: 897, name: "By", color: green, shape: "tri" },
  { y: 942, name: "Bz", color: blue, shape: "square" }
];
legend.forEach(l => {
  if (l.shape === "circle") {
    svg.append("circle").attr("cx", 25).attr("cy", l.y).attr("r", 3)
      .attr("fill", "none").attr("stroke", l.color).attr("stroke-width", 1.5);
  } else if (l.shape === "tri") {
    svg.append("path").attr("d", `M25,${l.y - 3.5}L28.5,${l.y + 2.5}L21.5,${l.y + 2.5}Z`)
      .attr("fill", "none").attr("stroke", l.color).attr("stroke-width", 1.5);
  } else {
    svg.append("rect").attr("x", 22).attr("y", l.y - 3).attr("width", 6).attr("height", 6)
      .attr("fill", "none").attr("stroke", l.color).attr("stroke-width", 1.5);
  }
  txt(76, l.y + 12, l.name, 33, "start");
});
txt(18, 986, "(nT)", 33, "start");

txt(626, 1584, "22 January, 2004 (doy)", 42);
</script>
</body>
</html>
